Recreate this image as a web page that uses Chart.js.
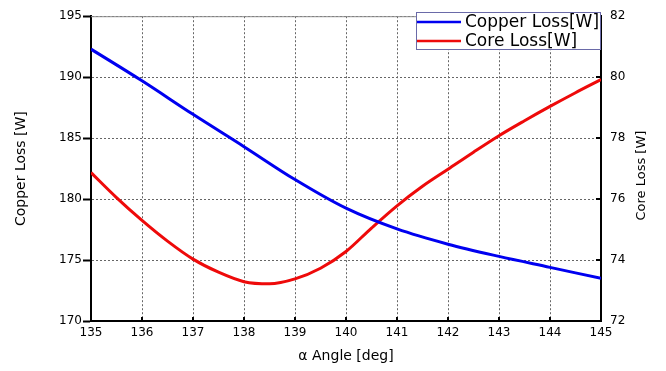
<!DOCTYPE html>
<html>
<head>
<meta charset="utf-8">
<script src="https://cdn.jsdelivr.net/npm/chart.js@4.4.0/dist/chart.umd.min.js"></script>
<style>
  html, body { margin: 0; padding: 0; background: #fff; }
</style>
</head>
<body>
<canvas id="Chart-loss" width="666" height="371"></canvas>
<script>
// values
var angles = [135, 136, 137, 138, 139, 140, 141, 142, 143, 144, 145];
var copperLoss = [192.3, 189.7, 186.95, 184.3, 181.6, 179.25, 177.55, 176.3, 175.3, 174.4, 173.5];
var coreAngles = [135, 135.5, 136, 136.5, 137, 137.5, 138, 138.5, 139, 139.5, 140,
                  140.5, 141, 141.5, 142, 142.5, 143, 143.5, 144, 144.5, 145];
var coreLoss = [76.87, 76.05, 75.30, 74.62, 74.03, 73.6, 73.29, 73.22, 73.38, 73.73, 74.28,
                75.05, 75.78, 76.42, 76.98, 77.54, 78.08, 78.57, 79.04, 79.49, 79.92];
var copperTicks = [170, 175, 180, 185, 190, 195];
var coreTicks = [72, 74, 76, 78, 80, 82];

var FONT = "'DejaVu Sans', sans-serif";
var BLUE = '#0000f0';
var RED = '#ee0a0a';

function toPoints(xs, ys) {
  return xs.map(function (x, i) { return { x: x, y: ys[i] }; });
}

// extras the library does not draw: top frame, inside tick marks, right title, legend box
var framePlugin = {
  id: 'frame',
  afterDraw: function (chart) {
    var ctx = chart.ctx;
    var a = chart.chartArea;
    var x = chart.scales.x, y1 = chart.scales.y1;
    ctx.save();

    ctx.strokeStyle = '#8a8a8a';
    ctx.lineWidth = 1;
    ctx.beginPath();
    ctx.moveTo(a.left, a.top + 0.5);
    ctx.lineTo(a.right, a.top + 0.5);
    ctx.stroke();

    ctx.strokeStyle = '#000';
    ctx.lineWidth = 2;
    ctx.beginPath();
    coreTicks.slice(1, -1).forEach(function (v) {
      var py = Math.round(y1.getPixelForValue(v));
      ctx.moveTo(a.right - 5, py);
      ctx.lineTo(a.right, py);
    });
    angles.slice(1, -1).forEach(function (v) {
      var px = Math.round(x.getPixelForValue(v));
      ctx.moveTo(px, a.bottom - 4);
      ctx.lineTo(px, a.bottom);
    });
    ctx.stroke();

    ctx.fillStyle = '#000';
    ctx.font = '13px ' + FONT;
    ctx.textAlign = 'center';
    ctx.textBaseline = 'middle';
    ctx.translate(642, (a.top + a.bottom) / 2 + 7);
    ctx.rotate(-Math.PI / 2);
    ctx.fillText('Core Loss [W]', 0, 0);
    ctx.setTransform(1, 0, 0, 1, 0, 0);

    var bx = 416, by = 12, bw = a.right - 416, bh = 38;
    ctx.fillStyle = '#fff';
    ctx.fillRect(bx, by, bw, bh);
    ctx.strokeStyle = '#6a6aa8';
    ctx.lineWidth = 1;
    ctx.strokeRect(bx + 0.5, by + 0.5, bw - 1, bh - 1);

    chart.data.datasets.forEach(function (ds, i) {
      var ly = by + 10 + i * 19;
      ctx.strokeStyle = ds.borderColor;
      ctx.lineWidth = 2.5;
      ctx.beginPath();
      ctx.moveTo(bx + 1, ly);
      ctx.lineTo(bx + 45, ly);
      ctx.stroke();
      ctx.fillStyle = '#000';
      ctx.font = '17px ' + FONT;
      ctx.textAlign = 'left';
      ctx.textBaseline = 'middle';
      ctx.fillText(ds.label, bx + 49, ly + 1);
    });
    ctx.restore();
  }
};

var ctx = document.getElementById('Chart-loss').getContext('2d');
var lossChart = new Chart(ctx, {
  type: 'line',
  data: {
    datasets: [{
      label: 'Copper Loss[W]',
      data: toPoints(angles, copperLoss),
      yAxisID: 'y',
      borderColor: BLUE,
      borderWidth: 3,
      pointRadius: 0,
      cubicInterpolationMode: 'monotone',
      fill: false
    }, {
      label: 'Core Loss[W]',
      data: toPoints(coreAngles, coreLoss),
      yAxisID: 'y1',
      borderColor: RED,
      borderWidth: 3,
      pointRadius: 0,
      cubicInterpolationMode: 'monotone',
      fill: false
    }]
  },
  options: {
    responsive: false,
    animation: false,
    devicePixelRatio: 1,
    layout: { padding: { top: 14, left: 0, right: 0, bottom: 0 } },
    plugins: {
      legend: { display: false },
      tooltip: { enabled: false }
    },
    scales: {
      x: {
        type: 'linear',
        position: 'bottom',
        min: 135,
        max: 145,
        afterBuildTicks: function (s) { s.ticks = angles.map(function (v) { return { value: v }; }); },
        afterFit: function (s) { s.height = 50; },
        ticks: { color: '#000', font: { family: FONT, size: 12 }, padding: 5, maxRotation: 0 },
        grid: { drawTicks: false, color: '#666', lineWidth: 1 },
        border: { display: true, color: '#000', width: 2, dash: [2, 2] },
        title: {
          display: true,
          text: 'α Angle [deg]',
          color: '#000',
          font: { family: FONT, size: 14 },
          padding: { top: 0, bottom: 6 }
        }
      },
      y: {
        type: 'linear',
        position: 'left',
        min: 170,
        max: 195,
        afterBuildTicks: function (s) { s.ticks = copperTicks.map(function (v) { return { value: v }; }); },
        afterFit: function (s) { s.width = 91; },
        ticks: { color: '#000', font: { family: FONT, size: 12 }, padding: 1 },
        grid: { drawTicks: true, tickLength: 8, tickColor: '#000', tickWidth: 2, tickBorderDash: [], color: '#666', lineWidth: 1 },
        border: { display: true, color: '#000', width: 2, dash: [2, 2] },
        title: {
          display: true,
          text: 'Copper Loss [W]',
          color: '#000',
          font: { family: FONT, size: 14 },
          padding: { top: 13, bottom: 0 }
        }
      },
      y1: {
        type: 'linear',
        position: 'right',
        min: 72,
        max: 82,
        afterBuildTicks: function (s) { s.ticks = coreTicks.map(function (v) { return { value: v }; }); },
        afterFit: function (s) { s.width = 65; },
        ticks: { color: '#000', font: { family: FONT, size: 12 }, padding: 9 },
        grid: { drawOnChartArea: false, drawTicks: false },
        border: { display: true, color: '#000', width: 2 },
        title: { display: false }
      }
    }
  },
  plugins: [framePlugin]
});
</script>
</body>
</html>
